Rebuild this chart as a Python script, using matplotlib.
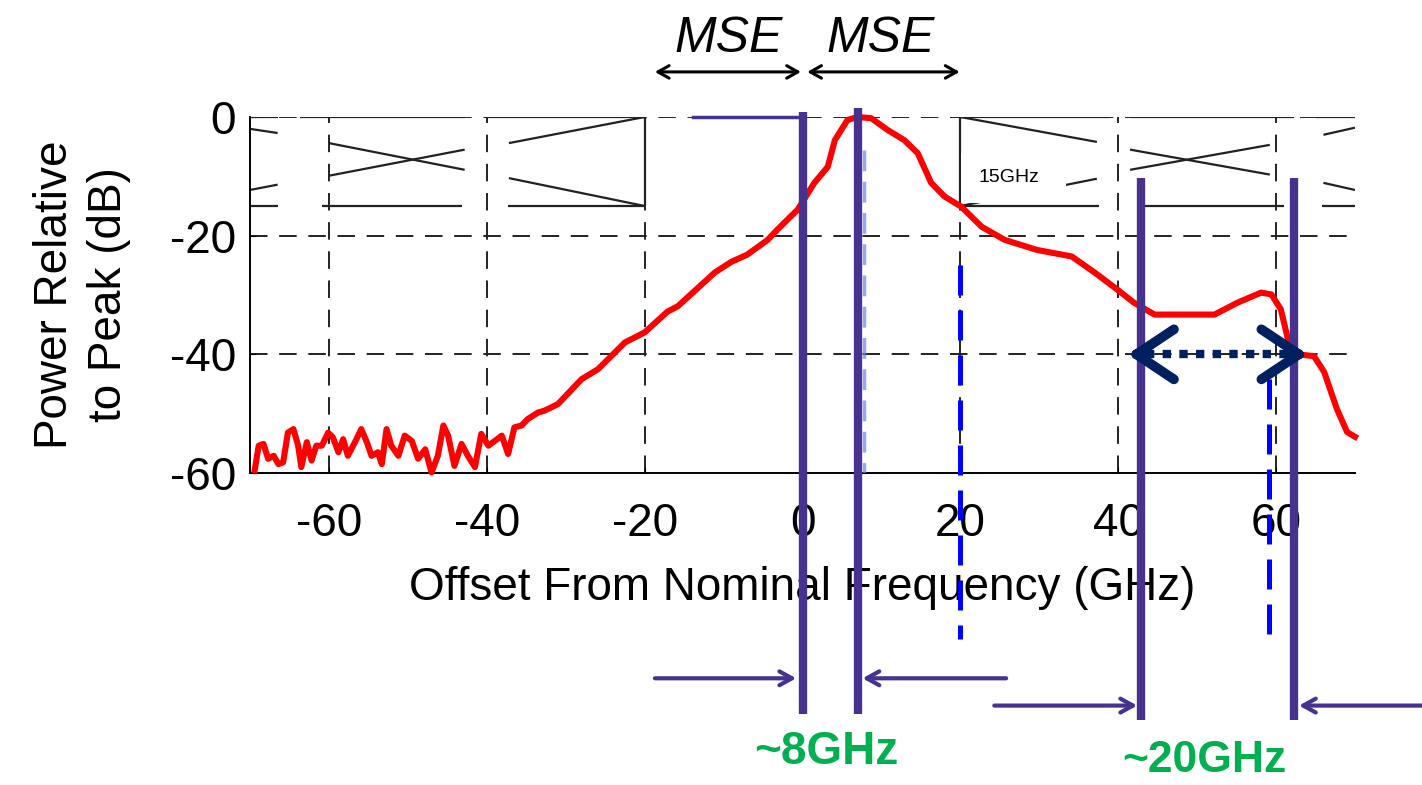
import matplotlib
matplotlib.use("Agg")
import matplotlib.pyplot as plt
from matplotlib.patches import Rectangle

plt.rcParams['font.family'] = ['Liberation Sans', 'DejaVu Sans']
plt.rcParams['axes.unicode_minus'] = False

freq_ghz = [-69.4, -68.9, -68.3, -67.7, -67.0, -66.4, -65.8, -65.2, -64.5, -63.9,
            -63.5, -62.8, -62.2, -61.6, -60.9, -60.1, -59.5, -58.8, -58.2, -57.6,
            -56.7, -55.9, -55.2, -54.6, -53.8, -53.3, -52.7, -52.1, -51.2, -50.4,
            -49.5, -48.7, -47.8, -47.0, -46.2, -45.5, -44.9, -44.1, -43.2, -42.4,
            -41.5, -40.7, -39.8, -39.0, -38.1, -37.3, -36.5, -35.6, -34.8, -33.5,
            -32.7, -31.0, -28.0, -25.9, -22.5, -20.0, -17.1, -15.8, -11.1, -9.0,
            -7.0, -4.4, -3.2, -0.6, 1.5, 3.2, 4.1, 5.7, 7.0, 8.7,
            10.8, 12.9, 14.6, 16.3, 18.0, 20.1, 22.7, 25.6, 29.7, 34.1,
            37.0, 39.9, 42.0, 44.6, 52.2, 55.1, 58.1, 59.4, 60.6, 61.6,
            62.7, 64.8, 66.1, 67.7, 69.0, 70.0]
power_db = [-59.5, -55.4, -55.1, -57.6, -57.1, -58.5, -58.2, -53.2, -52.6, -55.4,
            -59.0, -54.8, -57.9, -55.4, -55.4, -53.2, -54.0, -56.5, -54.3, -57.1,
            -54.8, -52.6, -54.8, -57.1, -56.5, -58.5, -52.6, -55.4, -57.1, -53.7,
            -54.6, -57.6, -56.0, -59.9, -57.1, -52.0, -53.7, -58.8, -55.1, -57.1,
            -59.0, -53.4, -55.4, -54.6, -53.7, -56.8, -52.3, -52.0, -50.9, -49.8,
            -49.5, -48.4, -44.2, -42.5, -38.0, -36.3, -32.8, -31.9, -26.2, -24.4,
            -23.2, -20.7, -19.0, -15.6, -11.1, -8.4, -3.9, -0.5, 0.0, -0.2,
            -2.2, -3.9, -6.1, -11.1, -13.4, -15.1, -18.5, -20.7, -22.4, -23.5,
            -26.2, -29.1, -31.3, -33.3, -33.3, -31.3, -29.6, -29.9, -32.4, -38.0,
            -40.0, -40.3, -43.0, -49.2, -53.1, -53.9]

x_ticks = [-60, -40, -20, 0, 20, 40, 60]
y_ticks = [0, -20, -40, -60]

# spectral mask outline between 0 and -15 dB: (x0, y0, x1, y1)
mask_segments = [
    (-70, 0, -66.5, 0), (-70, -15, -66.5, -15),
    (-70, -2, -66.5, -2.7), (-70, -12.3, -66.5, -11.4),
    (-63.7, 0, -42.8, 0), (-60.9, -15, -43.2, -15),
    (-60, -4.4, -42.8, -8.9), (-60, -9.9, -42.8, -5.5),
    (-40, 0, -20, 0), (-37.3, -15, -20, -15), (-20, 0, -20, -15),
    (-37.2, -4.4, -20, 0), (-37.2, -10.3, -20, -15),
    (20, 0, 38.9, 0), (20, -15, 37.6, -15), (20, 0, 20, -15),
    (20, 0, 37.3, -4.2), (20, -15, 37.3, -10.4),
    (41.6, 0, 62.3, 0), (43.3, -15, 61.0, -15),
    (41.5, -5.5, 59.2, -9.7), (41.5, -8.9, 59.2, -4.7),
    (65.0, 0, 70, 0), (65.8, -15, 70, -15),
    (66.0, -3.0, 70, -1.8), (66.0, -11.1, 70, -12.3),
]

band_edges_8 = [0, 7.0]        # purple markers, ~8 GHz
band_edges_20 = [42.9, 62.3]   # purple markers, ~20 GHz
blue_dash_x = [20, 59.1]
mse_edges = [-18.7, 0.0, 19.9]

purple = '#47338F'
navy = '#002060'
green = '#00B050'

fig = plt.figure(figsize=(14.22, 7.85), dpi=100)
ax = fig.add_axes([250 / 1422, 1 - 473 / 785, 1105 / 1422, 356 / 785])
ax.set_xlim(-70, 70)
ax.set_ylim(-60, 0)

dash = (0, (9, 6))
for xv in x_ticks:
    ax.plot([xv, xv], [-60, 0], color='#222222', lw=1.4, ls=dash, zorder=1)
for yv in [0, -20, -40]:
    ax.plot([-70, 70], [yv, yv], color='#222222', lw=1.4, ls=dash, zorder=1)

for x0, y0, x1, y1 in mask_segments:
    ax.plot([x0, x1], [y0, y1], color='#222222', lw=1.6, zorder=2,
            solid_capstyle='butt')

ax.add_patch(Rectangle((20.1, -14.5), 13.3, 8.4, facecolor='white',
                       edgecolor='none', zorder=3))
ax.text(22.3, -10.2, '15GHz', fontsize=14, va='center', ha='left', zorder=4)

ax.plot(freq_ghz, power_db, color='#FF0000', lw=4.4, zorder=5, clip_on=False,
        solid_joinstyle='round')

# blue dashed markers
ax.plot([7.8, 7.8], [-5.5, -60], color='#6F7FF0', lw=2.5, ls=(0, (6, 3)),
        alpha=0.7, zorder=4)
ax.plot([blue_dash_x[0]] * 2, [-25, -88], color='#0000FF', lw=3.6,
        ls=(0, (6, 3)), zorder=6, clip_on=False)
ax.plot([blue_dash_x[1]] * 2, [-44.2, -89.2], color='#0000FF', lw=3.6,
        ls=(0, (6, 3)), zorder=6, clip_on=False)

# purple band markers
ax.plot([band_edges_8[0]] * 2, [0.8, -100.7], color=purple, lw=6,
        zorder=7, clip_on=False, solid_capstyle='butt')
ax.plot([band_edges_8[1]] * 2, [1.5, -100.7], color=purple, lw=6,
        zorder=7, clip_on=False, solid_capstyle='butt')
for xv in band_edges_20:
    ax.plot([xv, xv], [-10.3, -101.7], color=purple, lw=6, zorder=7,
            clip_on=False, solid_capstyle='butt')
ax.plot([-13.9, 0], [0, 0], color=purple, lw=2.5, zorder=7, clip_on=False)

arrow_kw = dict(arrowstyle='->,head_length=0.9,head_width=0.5', color=purple,
                lw=3, shrinkA=0, shrinkB=0)
ax.annotate('', xy=(-0.8, -94.6), xytext=(-18.7, -94.6), arrowprops=arrow_kw,
            annotation_clip=False)
ax.annotate('', xy=(7.6, -94.6), xytext=(25.8, -94.6), arrowprops=arrow_kw,
            annotation_clip=False)
ax.annotate('', xy=(42.4, -99.2), xytext=(24.3, -99.2), arrowprops=arrow_kw,
            annotation_clip=False)
ax.annotate('', xy=(62.9, -99.2), xytext=(79.0, -99.2), arrowprops=arrow_kw,
            annotation_clip=False)

ax.text(3.0, -107.0, '~8GHz', color=green, fontsize=33, fontweight='bold',
        ha='center', va='center')
ax.text(50.9, -108.4, '~20GHz', color=green, fontsize=32, fontweight='bold',
        ha='center', va='center')

# navy bandwidth arrow on the -40 dB line
ax.plot([43.5, 62.0], [-40, -40], color=navy, lw=6, ls=(0, (1, 1)), zorder=8,
        solid_capstyle='butt', dash_capstyle='butt')
head_kw = dict(arrowstyle='->,head_length=0.45,head_width=0.3', color=navy,
               lw=7, shrinkA=0, shrinkB=0, mutation_scale=60)
ax.annotate('', xy=(41.2, -40), xytext=(43.4, -40), arrowprops=head_kw, zorder=8)
ax.annotate('', xy=(64.0, -40), xytext=(61.8, -40), arrowprops=head_kw, zorder=8)

# MSE arrows above the plot
mse_kw = dict(arrowstyle='<->,head_length=0.8,head_width=0.45', color='black',
              lw=2.2, shrinkA=0, shrinkB=0)
ax.annotate('', xy=(mse_edges[0], 7.6), xytext=(mse_edges[1] - 0.2, 7.6),
            arrowprops=mse_kw, annotation_clip=False)
ax.annotate('', xy=(mse_edges[1] + 0.6, 7.6), xytext=(mse_edges[2], 7.6),
            arrowprops=mse_kw, annotation_clip=False)
ax.text(-9.3, 13.2, 'MSE', fontsize=36, style='italic', ha='center', va='center')
ax.text(9.9, 13.2, 'MSE', fontsize=36, style='italic', ha='center', va='center')

ax.spines['top'].set_visible(False)
ax.spines['right'].set_visible(False)
ax.spines['left'].set_linewidth(1.4)
ax.spines['bottom'].set_linewidth(1.4)
ax.set_xticks(x_ticks)
ax.set_yticks(y_ticks)
ax.set_yticklabels([str(v) for v in y_ticks])
ax.set_xticklabels([str(v) for v in x_ticks])
ax.tick_params(direction='in', length=4, labelsize=33)
ax.tick_params(axis='x', pad=21)
ax.tick_params(axis='y', pad=10)
ax.set_xlabel('Offset From Nominal Frequency (GHz)', fontsize=33, labelpad=14)
ax.set_ylabel('Power Relative\nto Peak (dB)', fontsize=33, labelpad=28,
              linespacing=1.3)

fig.savefig('out.png', dpi=100)
